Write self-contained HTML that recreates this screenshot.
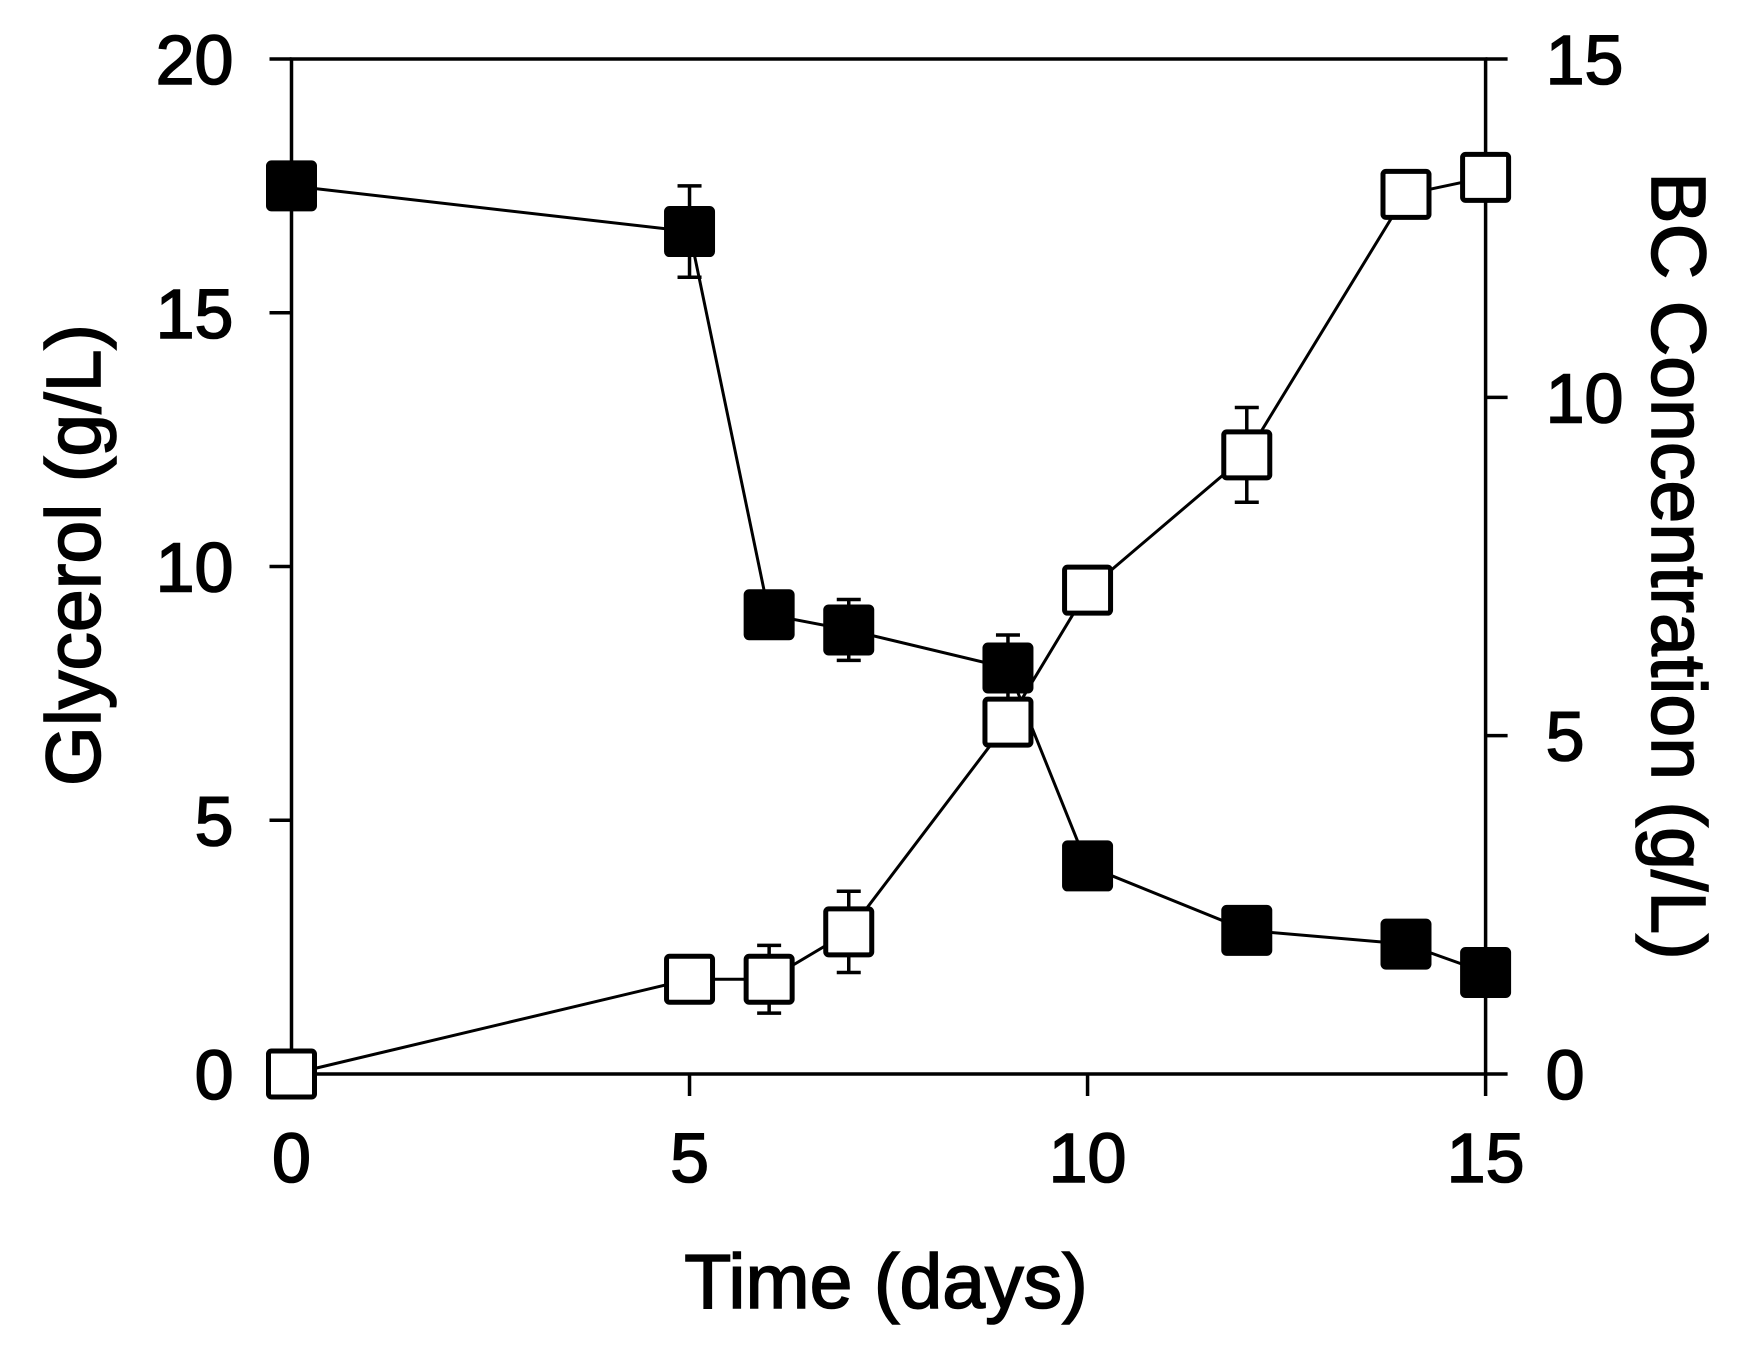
<!DOCTYPE html>
<html><head><meta charset="utf-8"><style>
html,body{margin:0;padding:0;background:#fff;}
svg text{font-family:"Liberation Sans",Arial,sans-serif;fill:#000;stroke:#000;stroke-width:1.6;}
</style></head><body>
<svg id="chart" width="1758" height="1360" viewBox="0 0 1758 1360" xmlns="http://www.w3.org/2000/svg"></svg>
<script>
const days = [0,5,6,7,9,10,12,14,15];
const glycerol = [17.5,16.6,9.05,8.75,8.0,4.1,2.83,2.56,2.0];
const glycerolErr = [0,0.9,0,0.6,0.65,0,0,0,0];
const bc = [0,1.4,1.4,2.1,5.2,7.15,9.15,13.0,13.25];
const bcErr = [0,0,0.5,0.6,0,0,0.7,0.25,0];
const xTicks = [0,5,10,15];
const yLeftTicks = [0,5,10,15,20];
const yRightTicks = [0,5,10,15];

const L=291.5,R=1485.6,T=59,B=1074;
const x=d=>L+(d/15)*(R-L);
const yl=v=>B-(v/20)*(B-T);
const yr=v=>B-(v/15)*(B-T);
const svg=document.getElementById('chart');
const NS='http://www.w3.org/2000/svg';
function mk(tag,attrs,parent){const e=document.createElementNS(NS,tag);for(const k in attrs)e.setAttribute(k,attrs[k]);(parent||svg).appendChild(e);return e;}

const frame=mk('rect',{x:L,y:T,width:R-L,height:B-T,fill:'none',stroke:'#000','stroke-width':3.5});



xTicks.forEach(t=>{
  const ln=mk('line',{x1:x(t),x2:x(t),y1:B,y2:B+22,stroke:'#000','stroke-width':3.5});
  
  
  const tx=mk('text',{x:x(t),y:B+108,'font-size':70,'text-anchor':'middle'});
  tx.textContent=t;
  
  
});
yLeftTicks.forEach(t=>{
  const ln=mk('line',{x1:L-22,x2:L,y1:yl(t),y2:yl(t),stroke:'#000','stroke-width':3.5});
  
  
  const tx=mk('text',{x:L-58,y:yl(t)+25,'font-size':70,'text-anchor':'end'});
  tx.textContent=t;
  
  
});
yRightTicks.forEach(t=>{
  const ln=mk('line',{x1:R,x2:R+22,y1:yr(t),y2:yr(t),stroke:'#000','stroke-width':3.5});
  
  
  const tx=mk('text',{x:R+60,y:yr(t)+25,'font-size':70,'text-anchor':'start'});
  tx.textContent=t;
  
  
});

const xt=mk('text',{x:886,y:1308,'font-size':77,'text-anchor':'middle'});
xt.textContent='Time (days)';


const ylt=mk('text',{x:0,y:0,'font-size':77,'text-anchor':'middle',transform:'translate(100,555) rotate(-90)'});
ylt.textContent='Glycerol (g/L)';


const yrt=mk('text',{x:0,y:0,'font-size':77,'text-anchor':'middle',transform:'translate(1652,566) rotate(90)'});
yrt.textContent='BC Concentration (g/L)';



function series(vals,errs,ys,fill,name){
  const pts=days.map((d,i)=>x(d)+','+ys(vals[i])).join(' ');
  const pl=mk('polyline',{points:pts,fill:'none',stroke:'#000','stroke-width':3});
  
  
  days.forEach((d,i)=>{
    if(errs[i]>0){
      const cx=x(d),y1=ys(vals[i]-errs[i]),y2=ys(vals[i]+errs[i]);
      const g=mk('g',{stroke:'#000','stroke-width':3.5});
      
      
      mk('line',{x1:cx,x2:cx,y1:y1,y2:y2},g);
      mk('line',{x1:cx-12,x2:cx+12,y1:y1,y2:y1},g);
      mk('line',{x1:cx-12,x2:cx+12,y1:y2,y2:y2},g);
    }
  });
  days.forEach((d,i)=>{
    const s=46;
    const r=mk('rect',{x:x(d)-s/2,y:ys(vals[i])-s/2,width:s,height:s,rx:3,fill:fill,stroke:'#000','stroke-width':5});
    
    
  });
}
series(glycerol,glycerolErr,yl,'#000','glycerol');
series(bc,bcErr,yr,'#fff','bc');
</script>
</body></html>
